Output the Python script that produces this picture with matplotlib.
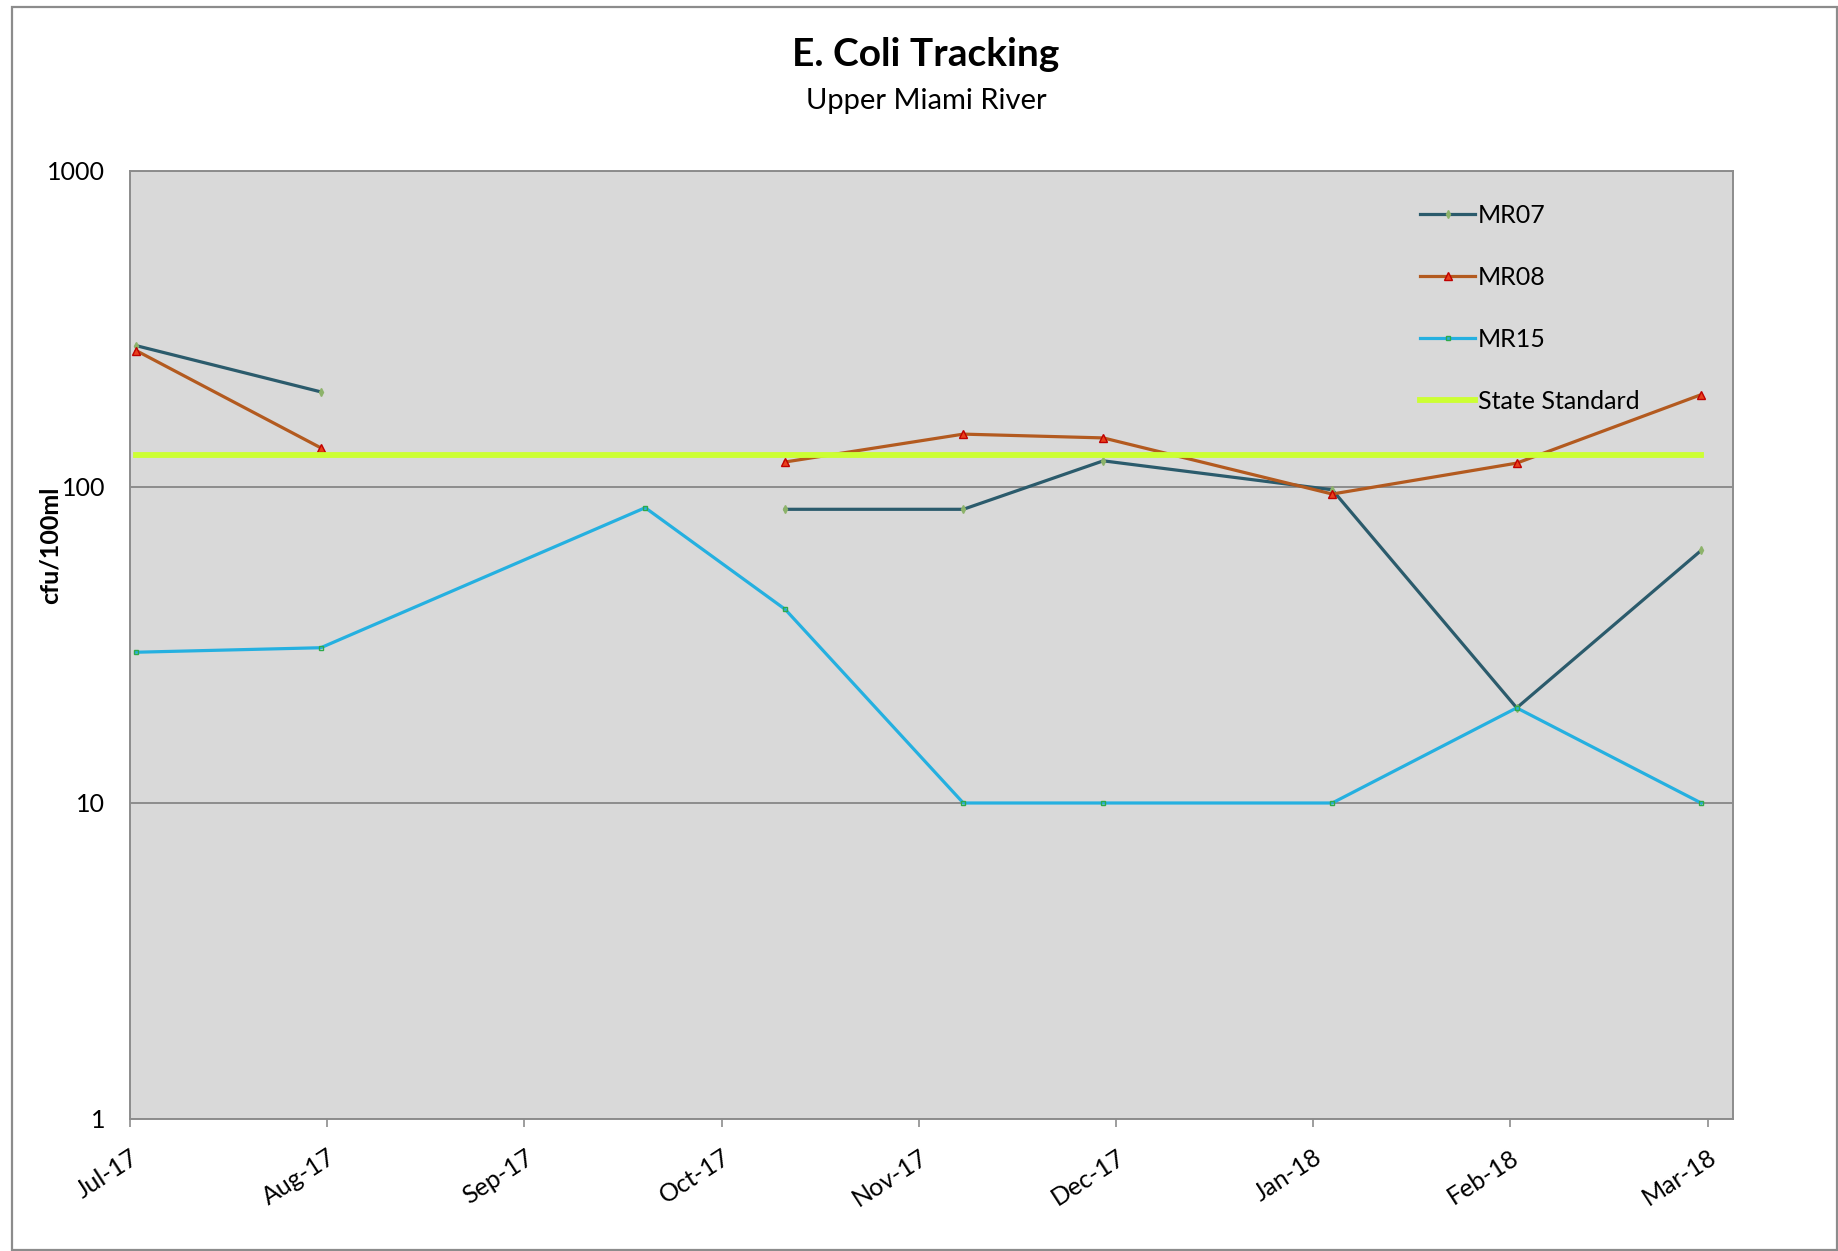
import numpy as np
import pandas as pd
import matplotlib
matplotlib.use('Agg')
from matplotlib import pyplot as plt
import matplotlib.dates as mdates
from matplotlib.patches import Rectangle
from matplotlib.ticker import NullLocator

# sampling dates and E. coli counts (cfu/100ml), nan = no sample
sample_dates = pd.to_datetime(['2017-07-02', '2017-07-31', '2017-09-20', '2017-10-12', '2017-11-09',
                               '2017-12-01', '2018-01-06', '2018-02-04', '2018-03-05'])
mr07 = [280, 200, np.nan, 85, 85, 121, 98, 20, 63]
mr08 = [270, 133, np.nan, 120, 147, 143, 95, 119, 196]
mr15 = [30, 31, 86, 41, 10, 10, 10, 20, 10]
state_standard = [126] * len(sample_dates)

tick_dates = pd.date_range('2017-07-01', periods = 9, freq = '31D')
y_ticks = [1, 10, 100, 1000]
y_ticklabels = ['1', '10', '100', '1000']

plt.rcParams['font.family'] = ['Lato', 'DejaVu Sans']
grey = '#8C8C8C'

fig = plt.figure(figsize = (18.38, 12.51), dpi = 100)
ax = fig.add_axes([0.07073, 0.10552, 0.87214, 0.75779])
ax.set_facecolor('#D9D9D9')

ax.plot(sample_dates, mr07, color = '#2B5B6C', linewidth = 2.3, marker = 'd', markersize = 4,
        markerfacecolor = '#8DB36A', markeredgecolor = '#8DB36A', label = 'MR07', zorder = 3)
ax.plot(sample_dates, mr08, color = '#B35A1F', linewidth = 2.3, marker = '^', markersize = 6,
        markerfacecolor = '#E8401C', markeredgecolor = '#C00000', label = 'MR08', zorder = 3)
ax.plot(sample_dates, mr15, color = '#25B0E0', linewidth = 2.3, marker = 's', markersize = 3.5,
        markerfacecolor = 'none', markeredgecolor = '#2EAA4A', label = 'MR15', zorder = 3)
ax.plot(sample_dates, state_standard, color = '#CCFF33', linewidth = 4.2, label = 'State Standard', zorder = 4)

ax.set_yscale('log')
ax.set_ylim(1, 1000)
ax.set_yticks(y_ticks)
ax.set_yticklabels(y_ticklabels)
ax.yaxis.set_minor_locator(NullLocator())
ax.tick_params(axis = 'y', length = 0, pad = 18, labelsize = 18)
ax.grid(True, axis = 'y', which = 'major', color = grey, linewidth = 1.4)

ax.set_xlim(pd.Timestamp('2017-07-01'), pd.Timestamp('2018-03-10'))
ax.set_xticks(tick_dates)
ax.xaxis.set_major_formatter(mdates.DateFormatter('%b-%y'))
ax.xaxis.set_minor_locator(NullLocator())
ax.tick_params(axis = 'x', length = 6, width = 1.2, color = grey, pad = 13, labelsize = 18)
plt.setp(ax.get_xticklabels(), rotation = 33, ha = 'right', va = 'top', rotation_mode = 'anchor')

for s in ax.spines.values():
  s.set_color(grey)
  s.set_linewidth(1.4)

ax.set_ylabel('cfu/100ml', fontsize = 18, fontweight = 'bold')
ax.yaxis.set_label_coords(-0.0424, 0.605)

ax.legend(loc = 'upper left', bbox_to_anchor = (0.805, 0.965), frameon = False, fontsize = 18,
          borderpad = 0, borderaxespad = 0, handlelength = 2.2, handletextpad = 0.1, labelspacing = 1.56)

fig.text(926 / 1838, 1 - 54 / 1251, 'E. Coli Tracking', ha = 'center', va = 'center',
         fontsize = 28, fontweight = 'bold')
fig.text(926 / 1838, 1 - 101 / 1251, 'Upper Miami River', ha = 'center', va = 'center', fontsize = 21)

fig.add_artist(Rectangle((0.0065, 0.0008), 0.9929, 0.9936, transform = fig.transFigure,
                         fill = False, edgecolor = grey, linewidth = 1.6))

fig.savefig('out.png', dpi = 100)
